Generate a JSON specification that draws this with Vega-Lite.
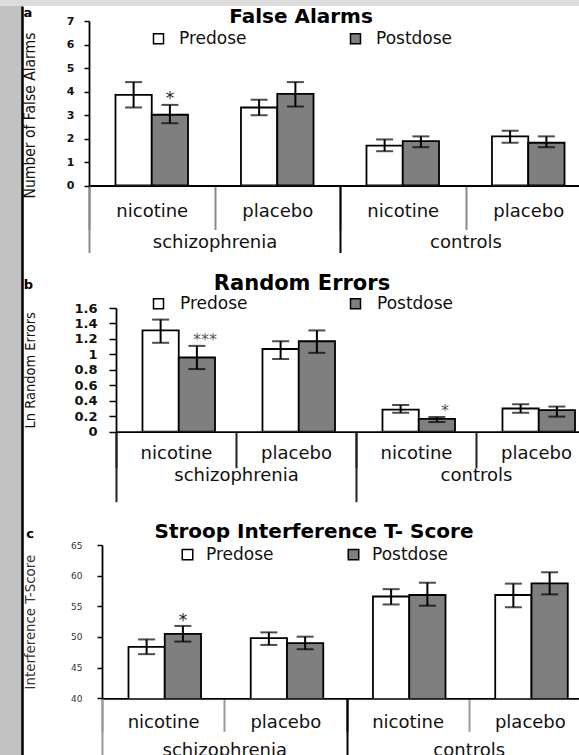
{
  "$schema": "https://vega.github.io/schema/vega-lite/v6.json",
  "background": "white",
  "padding": {"left": 0, "top": 0, "right": 0, "bottom": 0},
  "config": {
    "view": {"stroke": null},
    "font": "DejaVu Sans",
    "axis": {"grid": false, "domainColor": "black", "tickColor": "black", "labelColor": "#111", "titleColor": "#111"}
  },
  "datasets": {
    "fa": [
      {"group": "schizophrenia", "drug": "nicotine", "cat": "schizophrenia nicotine", "dose": "Predose", "value": 3.86, "lo": 3.32, "hi": 4.40, "sig": ""},
      {"group": "schizophrenia", "drug": "nicotine", "cat": "schizophrenia nicotine", "dose": "Postdose", "value": 3.01, "lo": 2.65, "hi": 3.43, "sig": "*"},
      {"group": "schizophrenia", "drug": "placebo", "cat": "schizophrenia placebo", "dose": "Predose", "value": 3.32, "lo": 2.99, "hi": 3.65, "sig": ""},
      {"group": "schizophrenia", "drug": "placebo", "cat": "schizophrenia placebo", "dose": "Postdose", "value": 3.90, "lo": 3.36, "hi": 4.40, "sig": ""},
      {"group": "controls", "drug": "nicotine", "cat": "controls nicotine", "dose": "Predose", "value": 1.70, "lo": 1.46, "hi": 1.96, "sig": ""},
      {"group": "controls", "drug": "nicotine", "cat": "controls nicotine", "dose": "Postdose", "value": 1.89, "lo": 1.63, "hi": 2.09, "sig": ""},
      {"group": "controls", "drug": "placebo", "cat": "controls placebo", "dose": "Predose", "value": 2.09, "lo": 1.82, "hi": 2.33, "sig": ""},
      {"group": "controls", "drug": "placebo", "cat": "controls placebo", "dose": "Postdose", "value": 1.82, "lo": 1.63, "hi": 2.09, "sig": ""}
    ],
    "re": [
      {"group": "schizophrenia", "drug": "nicotine", "cat": "schizophrenia nicotine", "dose": "Predose", "value": 1.31, "lo": 1.15, "hi": 1.45, "sig": ""},
      {"group": "schizophrenia", "drug": "nicotine", "cat": "schizophrenia nicotine", "dose": "Postdose", "value": 0.96, "lo": 0.81, "hi": 1.11, "sig": "***"},
      {"group": "schizophrenia", "drug": "placebo", "cat": "schizophrenia placebo", "dose": "Predose", "value": 1.07, "lo": 0.94, "hi": 1.17, "sig": ""},
      {"group": "schizophrenia", "drug": "placebo", "cat": "schizophrenia placebo", "dose": "Postdose", "value": 1.17, "lo": 1.02, "hi": 1.31, "sig": ""},
      {"group": "controls", "drug": "nicotine", "cat": "controls nicotine", "dose": "Predose", "value": 0.285, "lo": 0.245, "hi": 0.345, "sig": ""},
      {"group": "controls", "drug": "nicotine", "cat": "controls nicotine", "dose": "Postdose", "value": 0.165, "lo": 0.125, "hi": 0.19, "sig": "*"},
      {"group": "controls", "drug": "placebo", "cat": "controls placebo", "dose": "Predose", "value": 0.30, "lo": 0.245, "hi": 0.355, "sig": ""},
      {"group": "controls", "drug": "placebo", "cat": "controls placebo", "dose": "Postdose", "value": 0.28, "lo": 0.195, "hi": 0.325, "sig": ""}
    ],
    "st": [
      {"group": "schizophrenia", "drug": "nicotine", "cat": "schizophrenia nicotine", "dose": "Predose", "value": 48.4, "lo": 47.2, "hi": 49.6, "sig": ""},
      {"group": "schizophrenia", "drug": "nicotine", "cat": "schizophrenia nicotine", "dose": "Postdose", "value": 50.5, "lo": 49.25, "hi": 51.8, "sig": "*"},
      {"group": "schizophrenia", "drug": "placebo", "cat": "schizophrenia placebo", "dose": "Predose", "value": 49.8, "lo": 48.7, "hi": 50.75, "sig": ""},
      {"group": "schizophrenia", "drug": "placebo", "cat": "schizophrenia placebo", "dose": "Postdose", "value": 49.0, "lo": 48.0, "hi": 50.05, "sig": ""},
      {"group": "controls", "drug": "nicotine", "cat": "controls nicotine", "dose": "Predose", "value": 56.6, "lo": 55.3, "hi": 57.8, "sig": ""},
      {"group": "controls", "drug": "nicotine", "cat": "controls nicotine", "dose": "Postdose", "value": 56.85, "lo": 55.1, "hi": 58.85, "sig": ""},
      {"group": "controls", "drug": "placebo", "cat": "controls placebo", "dose": "Predose", "value": 56.85, "lo": 54.85, "hi": 58.7, "sig": ""},
      {"group": "controls", "drug": "placebo", "cat": "controls placebo", "dose": "Postdose", "value": 58.75, "lo": 56.95, "hi": 60.55, "sig": ""}
    ]
  },
  "spacing": 0,
  "resolve": {"scale": {"fill": "independent"}, "legend": {"fill": "independent"}},
  "vconcat": [
    {
      "width": 600, "height": 6,
      "view": {"fill": "#dcdcdc", "stroke": null},
      "data": {"values": [{"v": 0}]},
      "mark": {"type": "point", "opacity": 0, "size": 0, "strokeWidth": 0},
      "encoding": {}
    },
    {
      "spacing": 0,
      "resolve": {"scale": {"fill": "independent"}, "legend": {"fill": "independent"}},
      "hconcat": [
        {
          "width": 22, "height": 760,
          "view": {"fill": "#c2c2c2", "stroke": null},
          "data": {"values": [{"v": 0}, {"v": 1}]},
          "mark": {"type": "point", "opacity": 0, "size": 0, "strokeWidth": 0},
          "encoding": {"y": {"field": "v", "type": "quantitative", "axis": {"orient": "right", "ticks": false, "labels": false, "title": null, "domainColor": "black", "domainWidth": 2.5}}}
        },
        {
          "spacing": 0,
          "resolve": {"scale": {"fill": "independent"}, "legend": {"fill": "independent"}},
          "vconcat": [
            {"width": 1, "height": 1, "data": {"values": [{"v": 0}]}, "mark": {"type": "point", "opacity": 0, "size": 0, "strokeWidth": 0}, "encoding": {}},
            {
              "spacing": 19,
              "resolve": {"scale": {"fill": "independent"}, "legend": {"fill": "independent"}},
              "vconcat": [
                {
                  "spacing": -9,
                  "resolve": {"scale": {"fill": "independent"}, "legend": {"fill": "independent"}},
                  "hconcat": [
                    {"width": 1, "height": 1, "data": {"values": [{"v": 0}]}, "mark": {"type": "point", "opacity": 0, "size": 0, "strokeWidth": 0}, "encoding": {}},
                    {
                      "width": 502, "height": 164.5,
                      "title": {"text": "a", "orient": "left", "anchor": "end", "frame": "bounds", "angle": 0, "align": "left", "baseline": "top", "offset": 0, "fontSize": 13, "fontWeight": "bold", "font": "DejaVu Sans", "color": "black", "dx": 10},
                      "resolve": {"scale": {"x": "independent"}, "axis": {"x": "independent"}},
                      "layer": [
                        {
                          "data": {"name": "fa"},
                          "encoding": {
                            "x": {"field": "cat", "type": "nominal", "sort": ["schizophrenia nicotine", "schizophrenia placebo", "controls nicotine", "controls placebo"], "scale": {"paddingInner": 0, "paddingOuter": 0},
                              "axis": {"orient": "bottom", "title": null, "domainWidth": 1.8, "tickBand": "extent", "tickSize": 44, "tickWidth": 2, "tickColor": "#8a8a8a", "labelExpr": "split(datum.label, ' ')[1]", "labelAngle": 0, "labelFontSize": 18, "labelPadding": -27}},
                            "xOffset": {"field": "dose", "type": "nominal", "sort": ["Predose", "Postdose"], "scale": {"paddingInner": 0, "paddingOuter": 0.73}}
                          },
                          "layer": [
                            {
                              "mark": {"type": "bar", "stroke": "black", "strokeWidth": 1.8, "clip": true},
                              "encoding": {
                                "y": {"field": "value", "type": "quantitative", "scale": {"domain": [0, 7], "nice": false},
                                  "axis": {"title": "Number of False Alarms", "titleFont": "DejaVu Sans Condensed, Liberation Sans, sans-serif", "titleFontSize": 15.5, "titleFontWeight": "normal", "titlePadding": 29, "titleY": 94, "values": [0, 1, 2, 3, 4, 5, 6, 7], "labelOverlap": false, "tickSize": 5, "tickWidth": 1.5, "domainWidth": 1.8, "labelPadding": 10, "labelFontSize": 11, "labelFontWeight": "bold"}},
                                "fill": {"field": "dose", "type": "nominal", "scale": {"domain": ["Predose", "Postdose"], "range": ["white", "#7f7f7f"]},
                                  "legend": {"orient": "none", "legendX": 61, "legendY": -14, "direction": "horizontal", "title": "False Alarms", "titleLimit": 500, "titleFont": "DejaVu Sans", "titleFontSize": 20, "titleFontWeight": "bold", "titleColor": "black", "titleAnchor": "middle", "titlePadding": 3, "symbolType": "square", "symbolSize": 100, "symbolStrokeColor": "black", "symbolStrokeWidth": 1.5, "labelFont": "DejaVu Sans", "labelFontSize": 17, "labelColor": "#111", "labelOffset": 12, "columnPadding": 100}}
                              }
                            },
                            {"mark": {"type": "rule", "color": "black", "strokeWidth": 2}, "encoding": {"y": {"field": "lo", "type": "quantitative", "axis": {"title": "Number of False Alarms", "titleFont": "DejaVu Sans Condensed, Liberation Sans, sans-serif", "titleFontSize": 15.5, "titleFontWeight": "normal", "titlePadding": 29, "titleY": 94, "values": [0, 1, 2, 3, 4, 5, 6, 7], "labelOverlap": false, "tickSize": 5, "tickWidth": 1.5, "domainWidth": 1.8, "labelPadding": 10, "labelFontSize": 11, "labelFontWeight": "bold"}}, "y2": {"field": "hi"}}},
                            {"mark": {"type": "tick", "orient": "horizontal", "color": "black", "size": 17, "thickness": 2}, "encoding": {"y": {"field": "lo", "type": "quantitative", "axis": {"title": "Number of False Alarms", "titleFont": "DejaVu Sans Condensed, Liberation Sans, sans-serif", "titleFontSize": 15.5, "titleFontWeight": "normal", "titlePadding": 29, "titleY": 94, "values": [0, 1, 2, 3, 4, 5, 6, 7], "labelOverlap": false, "tickSize": 5, "tickWidth": 1.5, "domainWidth": 1.8, "labelPadding": 10, "labelFontSize": 11, "labelFontWeight": "bold"}}}},
                            {"mark": {"type": "tick", "orient": "horizontal", "color": "black", "size": 17, "thickness": 2}, "encoding": {"y": {"field": "hi", "type": "quantitative", "axis": {"title": "Number of False Alarms", "titleFont": "DejaVu Sans Condensed, Liberation Sans, sans-serif", "titleFontSize": 15.5, "titleFontWeight": "normal", "titlePadding": 29, "titleY": 94, "values": [0, 1, 2, 3, 4, 5, 6, 7], "labelOverlap": false, "tickSize": 5, "tickWidth": 1.5, "domainWidth": 1.8, "labelPadding": 10, "labelFontSize": 11, "labelFontWeight": "bold"}}}},
                            {"transform": [{"filter": "datum.sig != ''"}], "mark": {"type": "text", "baseline": "alphabetic", "dy": -1, "fontSize": 17, "fill": "#222"}, "encoding": {"y": {"field": "hi", "type": "quantitative", "axis": {"title": "Number of False Alarms", "titleFont": "DejaVu Sans Condensed, Liberation Sans, sans-serif", "titleFontSize": 15.5, "titleFontWeight": "normal", "titlePadding": 29, "titleY": 94, "values": [0, 1, 2, 3, 4, 5, 6, 7], "labelOverlap": false, "tickSize": 5, "tickWidth": 1.5, "domainWidth": 1.8, "labelPadding": 10, "labelFontSize": 11, "labelFontWeight": "bold"}}, "text": {"field": "sig"}}}
                          ]
                        },
                        {
                          "data": {"name": "fa"},
                          "mark": {"type": "rule", "opacity": 0},
                          "encoding": {
                            "x": {"field": "group", "type": "nominal", "sort": ["schizophrenia", "controls"], "scale": {"paddingInner": 0, "paddingOuter": 0},
                              "axis": {"orient": "bottom", "title": null, "domain": false, "tickBand": "extent", "tickSize": 67, "tickWidth": 2, "tickColor": {"condition": {"test": "datum.value === 'schizophrenia'", "value": "black"}, "value": "#8a8a8a"}, "labelAngle": 0, "labelFontSize": 18, "labelPadding": -19}}
                          }
                        }
                      ]
                    }
                  ]
                },
                {
                  "spacing": -9,
                  "resolve": {"scale": {"fill": "independent"}, "legend": {"fill": "independent"}},
                  "hconcat": [
                    {"width": 1, "height": 1, "data": {"values": [{"v": 0}]}, "mark": {"type": "point", "opacity": 0, "size": 0, "strokeWidth": 0}, "encoding": {}},
                    {
                      "width": 480, "height": 123.7,
                      "title": {"text": "b", "orient": "left", "anchor": "end", "frame": "bounds", "angle": 0, "align": "left", "baseline": "top", "offset": 0, "fontSize": 13, "fontWeight": "bold", "font": "DejaVu Sans", "color": "black", "dx": 10, "dy": 6},
                      "resolve": {"scale": {"x": "independent"}, "axis": {"x": "independent"}},
                      "layer": [
                        {
                          "data": {"name": "re"},
                          "encoding": {
                            "x": {"field": "cat", "type": "nominal", "sort": ["schizophrenia nicotine", "schizophrenia placebo", "controls nicotine", "controls placebo"], "scale": {"paddingInner": 0, "paddingOuter": 0},
                              "axis": {"orient": "bottom", "title": null, "domainWidth": 1.8, "tickBand": "extent", "tickSize": 36, "tickWidth": 2, "tickColor": "#222", "labelExpr": "split(datum.label, ' ')[1]", "labelAngle": 0, "labelFontSize": 18, "labelPadding": -23}},
                            "xOffset": {"field": "dose", "type": "nominal", "sort": ["Predose", "Postdose"], "scale": {"paddingInner": 0, "paddingOuter": 0.78}}
                          },
                          "layer": [
                            {
                              "mark": {"type": "bar", "stroke": "black", "strokeWidth": 1.8, "clip": true},
                              "encoding": {
                                "y": {"field": "value", "type": "quantitative", "scale": {"domain": [0, 1.6], "nice": false},
                                  "axis": {"title": "Ln Random Errors", "titleFont": "DejaVu Sans Condensed, Liberation Sans, sans-serif", "titleFontSize": 14.5, "titleFontWeight": "normal", "titlePadding": 36, "values": [0, 0.2, 0.4, 0.6, 0.8, 1, 1.2, 1.4, 1.6], "format": "~g", "labelOverlap": false, "tickSize": 7, "tickWidth": 1.5, "domainWidth": 1.8, "labelPadding": 12, "labelFontSize": 13, "labelFontWeight": "bold"}},
                                "fill": {"field": "dose", "type": "nominal", "scale": {"domain": ["Predose", "Postdose"], "range": ["white", "#7f7f7f"]},
                                  "legend": {"orient": "none", "legendX": 34, "legendY": -35, "direction": "horizontal", "title": "Random Errors", "titleLimit": 500, "titleFont": "DejaVu Sans", "titleFontSize": 21, "titleFontWeight": "bold", "titleColor": "black", "titleAnchor": "middle", "titlePadding": 1, "symbolType": "square", "symbolSize": 100, "symbolStrokeColor": "black", "symbolStrokeWidth": 1.5, "labelFont": "DejaVu Sans", "labelFontSize": 17, "labelColor": "#111", "labelOffset": 13, "columnPadding": 99}}
                              }
                            },
                            {"mark": {"type": "rule", "color": "black", "strokeWidth": 2}, "encoding": {"y": {"field": "lo", "type": "quantitative", "axis": {"title": "Ln Random Errors", "titleFont": "DejaVu Sans Condensed, Liberation Sans, sans-serif", "titleFontSize": 14.5, "titleFontWeight": "normal", "titlePadding": 36, "values": [0, 0.2, 0.4, 0.6, 0.8, 1, 1.2, 1.4, 1.6], "format": "~g", "labelOverlap": false, "tickSize": 7, "tickWidth": 1.5, "domainWidth": 1.8, "labelPadding": 12, "labelFontSize": 13, "labelFontWeight": "bold"}}, "y2": {"field": "hi"}}},
                            {"mark": {"type": "tick", "orient": "horizontal", "color": "black", "size": 17, "thickness": 2}, "encoding": {"y": {"field": "lo", "type": "quantitative", "axis": {"title": "Ln Random Errors", "titleFont": "DejaVu Sans Condensed, Liberation Sans, sans-serif", "titleFontSize": 14.5, "titleFontWeight": "normal", "titlePadding": 36, "values": [0, 0.2, 0.4, 0.6, 0.8, 1, 1.2, 1.4, 1.6], "format": "~g", "labelOverlap": false, "tickSize": 7, "tickWidth": 1.5, "domainWidth": 1.8, "labelPadding": 12, "labelFontSize": 13, "labelFontWeight": "bold"}}}},
                            {"mark": {"type": "tick", "orient": "horizontal", "color": "black", "size": 17, "thickness": 2}, "encoding": {"y": {"field": "hi", "type": "quantitative", "axis": {"title": "Ln Random Errors", "titleFont": "DejaVu Sans Condensed, Liberation Sans, sans-serif", "titleFontSize": 14.5, "titleFontWeight": "normal", "titlePadding": 36, "values": [0, 0.2, 0.4, 0.6, 0.8, 1, 1.2, 1.4, 1.6], "format": "~g", "labelOverlap": false, "tickSize": 7, "tickWidth": 1.5, "domainWidth": 1.8, "labelPadding": 12, "labelFontSize": 13, "labelFontWeight": "bold"}}}},
                            {"transform": [{"filter": "datum.sig != ''"}], "mark": {"type": "text", "baseline": "alphabetic", "dy": -1, "dx": 8, "fontSize": 16, "fill": "#555"}, "encoding": {"y": {"field": "hi", "type": "quantitative", "axis": {"title": "Ln Random Errors", "titleFont": "DejaVu Sans Condensed, Liberation Sans, sans-serif", "titleFontSize": 14.5, "titleFontWeight": "normal", "titlePadding": 36, "values": [0, 0.2, 0.4, 0.6, 0.8, 1, 1.2, 1.4, 1.6], "format": "~g", "labelOverlap": false, "tickSize": 7, "tickWidth": 1.5, "domainWidth": 1.8, "labelPadding": 12, "labelFontSize": 13, "labelFontWeight": "bold"}}, "text": {"field": "sig"}}}
                          ]
                        },
                        {
                          "data": {"name": "re"},
                          "mark": {"type": "rule", "opacity": 0},
                          "encoding": {
                            "x": {"field": "group", "type": "nominal", "sort": ["schizophrenia", "controls"], "scale": {"paddingInner": 0, "paddingOuter": 0},
                              "axis": {"orient": "bottom", "title": null, "domain": false, "tickBand": "extent", "tickSize": 70, "tickWidth": 2, "tickColor": "#222", "labelAngle": 0, "labelFontSize": 18, "labelPadding": -35}}
                          }
                        }
                      ]
                    }
                  ]
                },
                {
                  "spacing": -9,
                  "resolve": {"scale": {"fill": "independent"}, "legend": {"fill": "independent"}},
                  "hconcat": [
                    {"width": 1, "height": 1, "data": {"values": [{"v": 0}]}, "mark": {"type": "point", "opacity": 0, "size": 0, "strokeWidth": 0}, "encoding": {}},
                    {
                      "width": 489, "height": 153.3,
                      "title": {"text": "c", "orient": "left", "anchor": "end", "frame": "bounds", "angle": 0, "align": "left", "baseline": "top", "offset": 0, "fontSize": 13, "fontWeight": "bold", "font": "DejaVu Sans", "color": "black", "dx": 12, "dy": 6},
                      "resolve": {"scale": {"x": "independent"}, "axis": {"x": "independent"}},
                      "layer": [
                        {
                          "data": {"name": "st"},
                          "encoding": {
                            "x": {"field": "cat", "type": "nominal", "sort": ["schizophrenia nicotine", "schizophrenia placebo", "controls nicotine", "controls placebo"], "scale": {"paddingInner": 0, "paddingOuter": 0},
                              "axis": {"orient": "bottom", "title": null, "domainWidth": 1.8, "tickBand": "extent", "tickSize": 33, "tickWidth": 2, "tickColor": {"condition": {"test": "datum.value === 'schizophrenia placebo'", "value": "#222"}, "value": "#999"}, "labelExpr": "split(datum.label, ' ')[1]", "labelAngle": 0, "labelFontSize": 18, "labelPadding": -18}},
                            "xOffset": {"field": "dose", "type": "nominal", "sort": ["Predose", "Postdose"], "scale": {"paddingInner": 0, "paddingOuter": 0.7}}
                          },
                          "layer": [
                            {
                              "mark": {"type": "bar", "stroke": "black", "strokeWidth": 1.8, "clip": true},
                              "encoding": {
                                "y": {"field": "value", "type": "quantitative", "scale": {"domain": [40, 65], "nice": false, "zero": false},
                                  "axis": {"title": "Interference T-Score", "titleFont": "DejaVu Sans Condensed, Liberation Sans, sans-serif", "titleFontSize": 14.8, "titleFontWeight": "normal", "titleColor": "#333", "titlePadding": 33.5, "values": [40, 45, 50, 55, 60, 65], "labelOverlap": false, "tickSize": 5, "tickWidth": 1.5, "domainWidth": 1.8, "labelPadding": 15, "labelFontSize": 9, "labelColor": "#333"}},
                                "fill": {"field": "dose", "type": "nominal", "scale": {"domain": ["Predose", "Postdose"], "range": ["white", "#7f7f7f"]},
                                  "legend": {"orient": "none", "legendX": 53, "legendY": -23, "direction": "horizontal", "title": "Stroop Interference T- Score", "titleLimit": 500, "titleFont": "DejaVu Sans", "titleFontSize": 20, "titleFontWeight": "bold", "titleColor": "black", "titleAnchor": "middle", "titlePadding": 4, "symbolType": "square", "symbolSize": 110, "symbolStrokeColor": "black", "symbolStrokeWidth": 1.5, "labelFont": "DejaVu Sans", "labelFontSize": 17, "labelColor": "#111", "labelOffset": 10, "columnPadding": 71}}
                              }
                            },
                            {"mark": {"type": "rule", "color": "black", "strokeWidth": 2}, "encoding": {"y": {"field": "lo", "type": "quantitative", "axis": {"title": "Interference T-Score", "titleFont": "DejaVu Sans Condensed, Liberation Sans, sans-serif", "titleFontSize": 14.8, "titleFontWeight": "normal", "titleColor": "#333", "titlePadding": 33.5, "values": [40, 45, 50, 55, 60, 65], "labelOverlap": false, "tickSize": 5, "tickWidth": 1.5, "domainWidth": 1.8, "labelPadding": 15, "labelFontSize": 9, "labelColor": "#333"}}, "y2": {"field": "hi"}}},
                            {"mark": {"type": "tick", "orient": "horizontal", "color": "black", "size": 17, "thickness": 2}, "encoding": {"y": {"field": "lo", "type": "quantitative", "axis": {"title": "Interference T-Score", "titleFont": "DejaVu Sans Condensed, Liberation Sans, sans-serif", "titleFontSize": 14.8, "titleFontWeight": "normal", "titleColor": "#333", "titlePadding": 33.5, "values": [40, 45, 50, 55, 60, 65], "labelOverlap": false, "tickSize": 5, "tickWidth": 1.5, "domainWidth": 1.8, "labelPadding": 15, "labelFontSize": 9, "labelColor": "#333"}}}},
                            {"mark": {"type": "tick", "orient": "horizontal", "color": "black", "size": 17, "thickness": 2}, "encoding": {"y": {"field": "hi", "type": "quantitative", "axis": {"title": "Interference T-Score", "titleFont": "DejaVu Sans Condensed, Liberation Sans, sans-serif", "titleFontSize": 14.8, "titleFontWeight": "normal", "titleColor": "#333", "titlePadding": 33.5, "values": [40, 45, 50, 55, 60, 65], "labelOverlap": false, "tickSize": 5, "tickWidth": 1.5, "domainWidth": 1.8, "labelPadding": 15, "labelFontSize": 9, "labelColor": "#333"}}}},
                            {"transform": [{"filter": "datum.sig != ''"}], "mark": {"type": "text", "baseline": "alphabetic", "dy": 0, "fontSize": 17, "fill": "#222"}, "encoding": {"y": {"field": "hi", "type": "quantitative", "axis": {"title": "Interference T-Score", "titleFont": "DejaVu Sans Condensed, Liberation Sans, sans-serif", "titleFontSize": 14.8, "titleFontWeight": "normal", "titleColor": "#333", "titlePadding": 33.5, "values": [40, 45, 50, 55, 60, 65], "labelOverlap": false, "tickSize": 5, "tickWidth": 1.5, "domainWidth": 1.8, "labelPadding": 15, "labelFontSize": 9, "labelColor": "#333"}}, "text": {"field": "sig"}}}
                          ]
                        },
                        {
                          "data": {"name": "st"},
                          "mark": {"type": "rule", "opacity": 0},
                          "encoding": {
                            "x": {"field": "group", "type": "nominal", "sort": ["schizophrenia", "controls"], "scale": {"paddingInner": 0, "paddingOuter": 0},
                              "axis": {"orient": "bottom", "title": null, "domain": false, "tickBand": "extent", "tickSize": 63, "tickWidth": 2, "tickColor": {"condition": {"test": "datum.value === 'schizophrenia'", "value": "black"}, "value": "#999"}, "labelAngle": 0, "labelFontSize": 18, "labelPadding": -20}}
                          }
                        }
                      ]
                    }
                  ]
                }
              ]
            }
          ]
        }
      ]
    }
  ]
}
